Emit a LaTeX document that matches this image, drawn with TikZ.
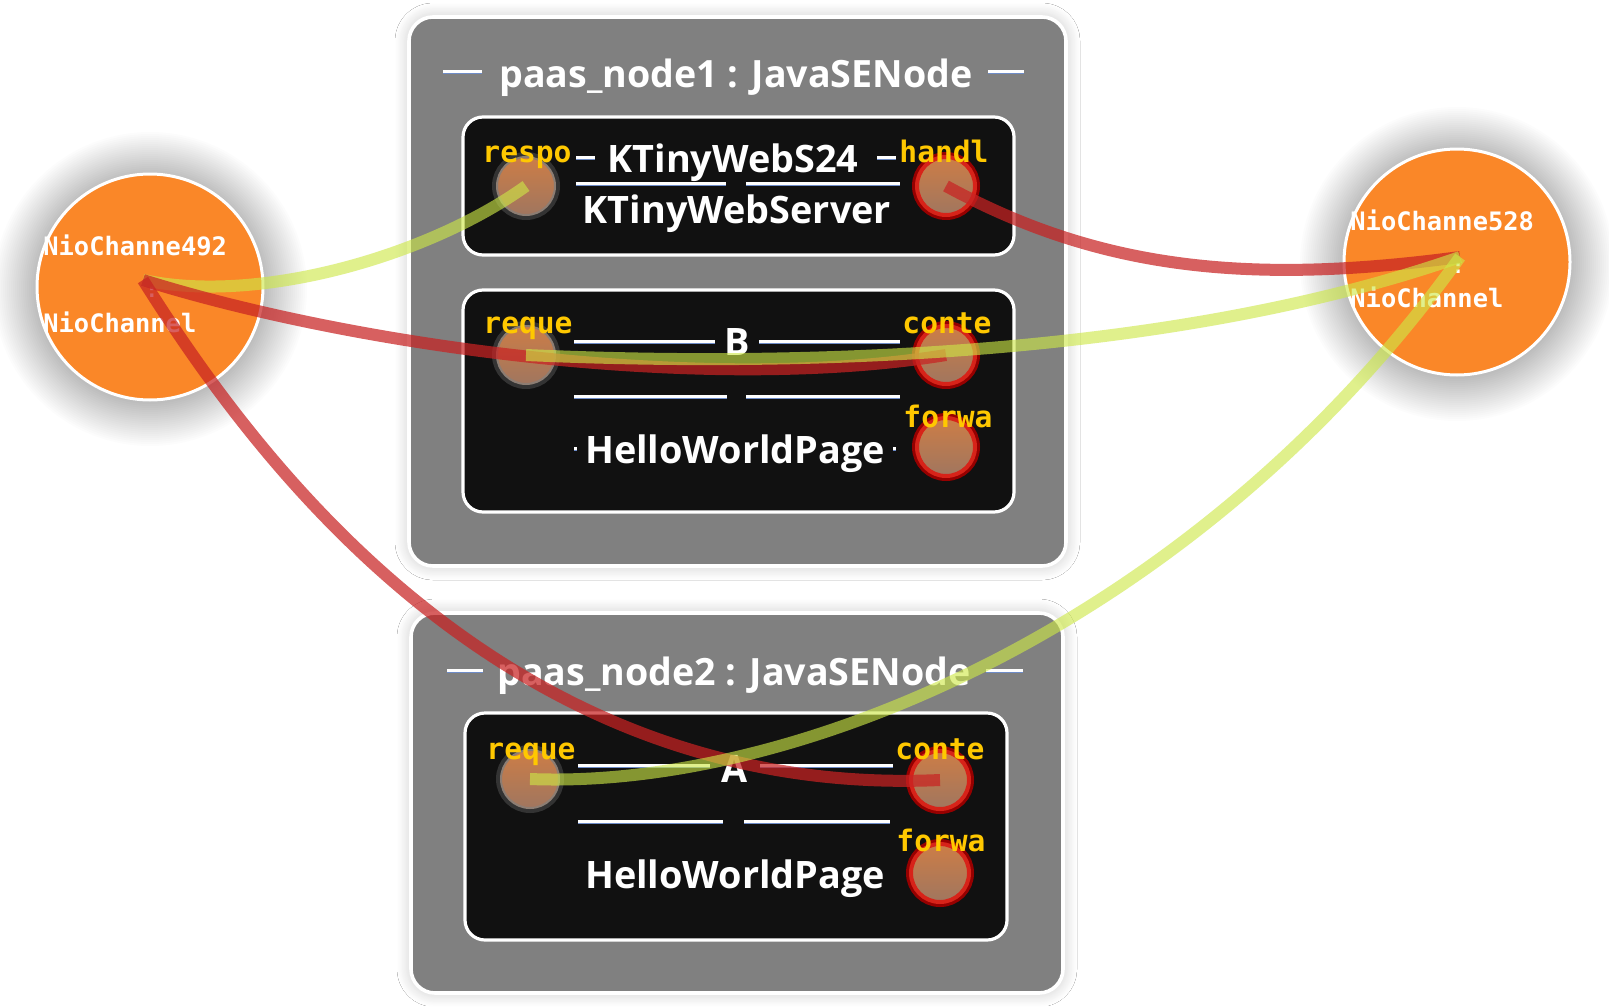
\documentclass[tikz,border=0pt]{standalone}
\usepackage{fontspec}
\setmainfont{Open Sans}
\newfontfamily\monofont{DejaVu Sans Mono}
\usetikzlibrary{shadows.blur}
\definecolor{boxgray}{RGB}{128,128,128}
\definecolor{innerblk}{RGB}{17,17,17}
\definecolor{chorange}{RGB}{250,135,40}
\definecolor{lblyellow}{RGB}{255,200,0}
\definecolor{porttop}{RGB}{205,125,70}
\definecolor{portbot}{RGB}{160,118,95}
\definecolor{portred}{RGB}{215,35,25}
\definecolor{portdark}{RGB}{150,0,0}
\definecolor{portgray}{RGB}{60,60,60}
\definecolor{portlight}{RGB}{140,125,115}
\definecolor{redlink}{RGB}{200,35,35}
\definecolor{yellink}{RGB}{205,232,70}
\definecolor{sepblue}{RGB}{110,140,200}
\newcommand\sepline[3]{\draw[sepb] (#1,#3+1.5) -- (#2,#3+1.5); \draw[sepw] (#1,#3) -- (#2,#3);}
\begin{document}
\begin{tikzpicture}[x=0.5pt,y=-0.5pt,
  outerbox/.style={draw=white, line width=1.8pt, fill=boxgray, rounded corners=12pt,
    inner sep=0pt,
    blur shadow={shadow xshift=0pt, shadow yshift=0pt, shadow blur radius=7pt, shadow blur steps=25, shadow opacity=22, shadow scale=1.0}},
  innerbox/.style={draw=white, line width=1.6pt, fill=innerblk, rounded corners=10pt, inner sep=0pt},
  glowring/.style={fill=black, fill opacity=0.013},
  chan/.style={circle, draw=white, line width=1.5pt, fill=chorange, minimum size=113pt, inner sep=0pt},
  chantext/.style={anchor=base west, text=white, font=\monofont\bfseries\fontsize{12.7}{14}\selectfont, inner sep=0pt},
  colon/.style={text=white, font=\monofont\bfseries\fontsize{10}{12}\selectfont, inner sep=0pt},
  portbase/.style={circle, minimum size=29pt, inner sep=0pt, top color=porttop, bottom color=portbot},
  portr/.style={portbase, preaction={draw=portdark, line width=5pt}, draw=portred, line width=2pt},
  portg/.style={portbase, preaction={draw=portgray, draw opacity=0.8, line width=5pt}, draw=portlight, line width=1pt},
  plabel/.style={anchor=base, text=lblyellow, font=\monofont\bfseries\fontsize{14.8}{16}\selectfont, inner sep=0pt},
  title/.style={anchor=base, text=white, font=\bfseries\fontsize{18.8}{22}\selectfont, inner sep=0pt},
  inname/.style={anchor=base, text=white, font=\bfseries\fontsize{18.9}{22}\selectfont, inner sep=0pt},
  sepw/.style={draw=white, line width=1.5pt},
  sepb/.style={draw=sepblue, line width=1pt},
  redc/.style={draw=redlink, draw opacity=0.72, line width=6pt},
  yelc/.style={draw=yellink, draw opacity=0.62, line width=6pt}
]
\useasboundingbox[fill=white] (0,0) rectangle (1609,1006);

% outer boxes
\node[outerbox, minimum width=328.5pt, minimum height=274.5pt] (n1) at (737.5,291.5) {};
\node[outerbox, minimum width=326pt, minimum height=190pt] (n2) at (737,803) {};

% inner boxes
\node[innerbox, minimum width=275.5pt, minimum height=69pt] (ks) at (738.5,186) {};
\node[innerbox, minimum width=275.5pt, minimum height=111pt] (bb) at (738.5,401) {};
\node[innerbox, minimum width=271pt, minimum height=113.5pt] (aa) at (736,826.5) {};

% titles
\node[title] (t1) at (736,88) {paas\_node1 : JavaSENode};
\node[title] (t2) at (734,685) {paas\_node2 : JavaSENode};
\sepline{443}{482}{72}
\sepline{988}{1024}{72}
\sepline{447}{483}{670}
\sepline{986}{1023}{670}

% KTinyWebS24 box
\node[inname] (ksn) at (733,172) {KTinyWebS24};
\node[inname] (kst) at (737,223) {KTinyWebServer};
\sepline{576}{595}{157}
\sepline{877}{896}{157}
\sepline{576}{726}{183}
\sepline{746}{900}{183}

% B box
\node[inname] (bn) at (737,355) {B};
\node[inname] (bt) at (735,463) {HelloWorldPage};
\sepline{574}{715}{341}
\sepline{759}{900}{341}
\sepline{574}{727}{396}
\sepline{746}{900}{396}
\sepline{574}{577}{448}
\sepline{893}{896}{448}

% A box
\node[inname] (an) at (735,782) {A};
\node[inname] (at) at (735,888) {HelloWorldPage};
\sepline{578}{710}{765}
\sepline{760}{893}{765}
\sepline{578}{723}{821}
\sepline{744}{890}{821}

% ports
\node[portg] (respo) at (526,186) {};
\node[portr] (handl) at (946,186) {};
\node[portg] (reqB) at (526,355) {};
\node[portr] (conB) at (946,355) {};
\node[portr] (forB) at (946,447) {};
\node[portg] (reqA) at (530,779) {};
\node[portr] (conA) at (940,780) {};
\node[portr] (forA) at (940,873) {};

% port labels
\node[plabel] (lrespo) at (527,162) {respo};
\node[plabel] (lhandl) at (944,162) {handl};
\node[plabel] (lreqB) at (528,333) {reque};
\node[plabel] (lconB) at (947,333) {conte};
\node[plabel] (lforB) at (948,427) {forwa};
\node[plabel] (lreqA) at (531,759) {reque};
\node[plabel] (lconA) at (940,759) {conte};
\node[plabel] (lforA) at (941,851) {forwa};

% channels
\coordinate (lcc0) at (150,289);
\coordinate (rcc0) at (1457,264);
\foreach \i in {0,...,22} {
  \fill[glowring] (lcc0) circle[radius=113+2*\i];
  \fill[glowring] (rcc0) circle[radius=113+2*\i];
}
\node[chan] (lc) at (150,287) {};
\node[chan] (rc) at (1457,262) {};
\node[chantext] (lct1) at (43,255) {NioChanne492};
\node[chantext] (lct2) at (43,332) {NioChannel};
\node[colon] (lcc) at (152,292) {:};
\node[chantext] (rct1) at (1350,230) {NioChanne528};
\node[chantext] (rct2) at (1350,307) {NioChannel};
\node[colon] (rcc) at (1458,268) {:};
\coordinate (lcp) at (143,280);
\coordinate (rcp) at (1460,257);

% connectors
\draw[yelc] (lcp) .. controls (260,305) and (430,255) .. (respo.center);
\draw[redc] (handl.center) .. controls (1100,270) and (1250,285) .. (rcp);
\draw[redc] (lcp) .. controls (350,345) and (700,395) .. (conB.center);
\draw[yelc] (reqB.center) .. controls (750,365) and (1150,365) .. (rcp);
\draw[redc] (lcp) .. controls (250,450) and (500,800) .. (conA.center);
\draw[yelc] (reqA.center) .. controls (800,790) and (1200,620) .. (rcp);
\end{tikzpicture}
\end{document}
